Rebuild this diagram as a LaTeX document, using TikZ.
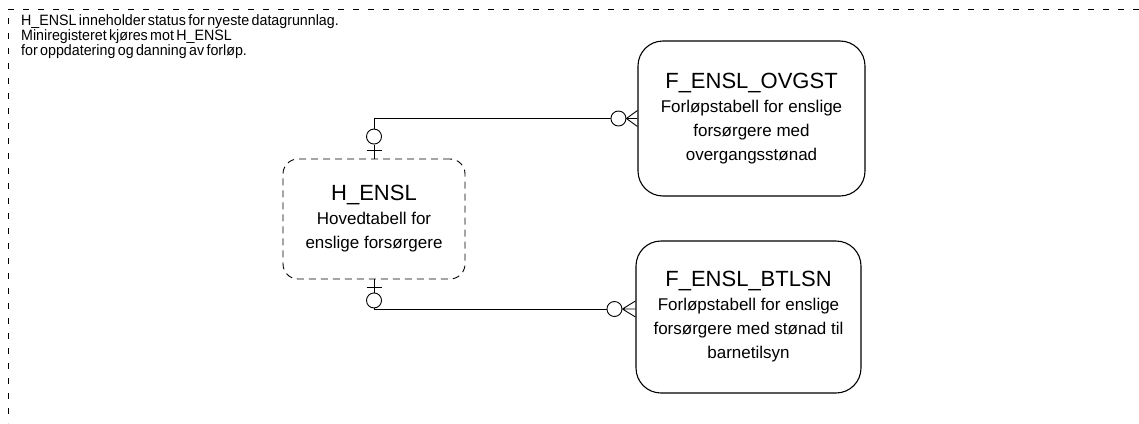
\documentclass[tikz,border=0pt]{standalone}
\usepackage{fontspec}
\setmainfont{Liberation Sans}
\newfontfamily\notefont{Liberation Sans}[FakeStretch=0.95,WordSpace=0.6]
\usetikzlibrary{calc}

\newcommand\entitytitle[1]{{\fontsize{22}{24}\selectfont #1}}
\newcommand\crowsfoot[2]{%
  \draw[link] (#1.east) -- ($(#1.east -| #2.west)+(0,-8)$)
    (#1.east) -- (#1.east -| #2.west)
    (#1.east) -- ($(#1.east -| #2.west)+(0,8)$);}

\begin{document}
\begin{tikzpicture}[x=1pt,y=-1pt,
  entity/.style={draw,line width=1.1pt,rounded corners=25pt,align=center,
    inner sep=0pt,font=\fontsize{17}{24}\selectfont},
  optional/.style={circle,draw,line width=0.9pt,minimum size=15pt,inner sep=0pt},
  link/.style={line width=0.9pt}]
 \useasboundingbox (0,0) rectangle (1139,423);
 \draw[dash pattern=on 6pt off 9pt,line width=1pt] (1139,9) -- (8,9) -- (8,423);
 \node[anchor=north west,align=left,inner sep=0pt,
  font=\notefont\fontsize{15}{15}\selectfont] (note) at (21,14)
  {H\_ENSL inneholder status for nyeste datagrunnlag.\\
   Miniregisteret kjøres mot H\_ENSL\\
   for oppdatering og danning av forløp.};
 \node[entity,dash pattern=on 7pt off 5pt,line width=0.9pt,rounded corners=15pt,
  minimum width=182pt,minimum height=120pt] (hensl) at (374,219)
  {\entitytitle{H\_ENSL}\\Hovedtabell for\\enslige forsørgere};
 \node[entity,minimum width=227pt,minimum height=155pt] (ovgst) at (751.5,118.5)
  {\entitytitle{F\_ENSL\_OVGST}\\Forløpstabell for enslige\\forsørgere med\\overgangsstønad};
 \node[entity,minimum width=225pt,minimum height=152pt] (btlsn) at (748.5,317)
  {\entitytitle{F\_ENSL\_BTLSN}\\Forløpstabell for enslige\\forsørgere med stønad til\\barnetilsyn};
 % upper relation
 \node[optional] (o1) at ($(hensl.north)+(0,-22)$) {};
 \node[optional] (o2) at ($(ovgst.west)+(-19,0)$) {};
 \draw[link] (hensl.north) -- (o1.south);
 \draw[link] ($(hensl.north)+(-7.5,-8)$) -- ++(15,0);
 \draw[link] (o1.north) |- (o2.west);
 \crowsfoot{o2}{ovgst}
 % lower relation
 \node[optional] (o3) at ($(hensl.south)+(0,21)$) {};
 \node[optional] (o4) at ($(btlsn.west)+(-21,-8)$) {};
 \draw[link] (hensl.south) -- (o3.north);
 \draw[link] ($(hensl.south)+(-7.5,8)$) -- ++(15,0);
 \draw[link] (o3.south) |- (o4.west);
 \crowsfoot{o4}{btlsn}
\end{tikzpicture}
\end{document}
